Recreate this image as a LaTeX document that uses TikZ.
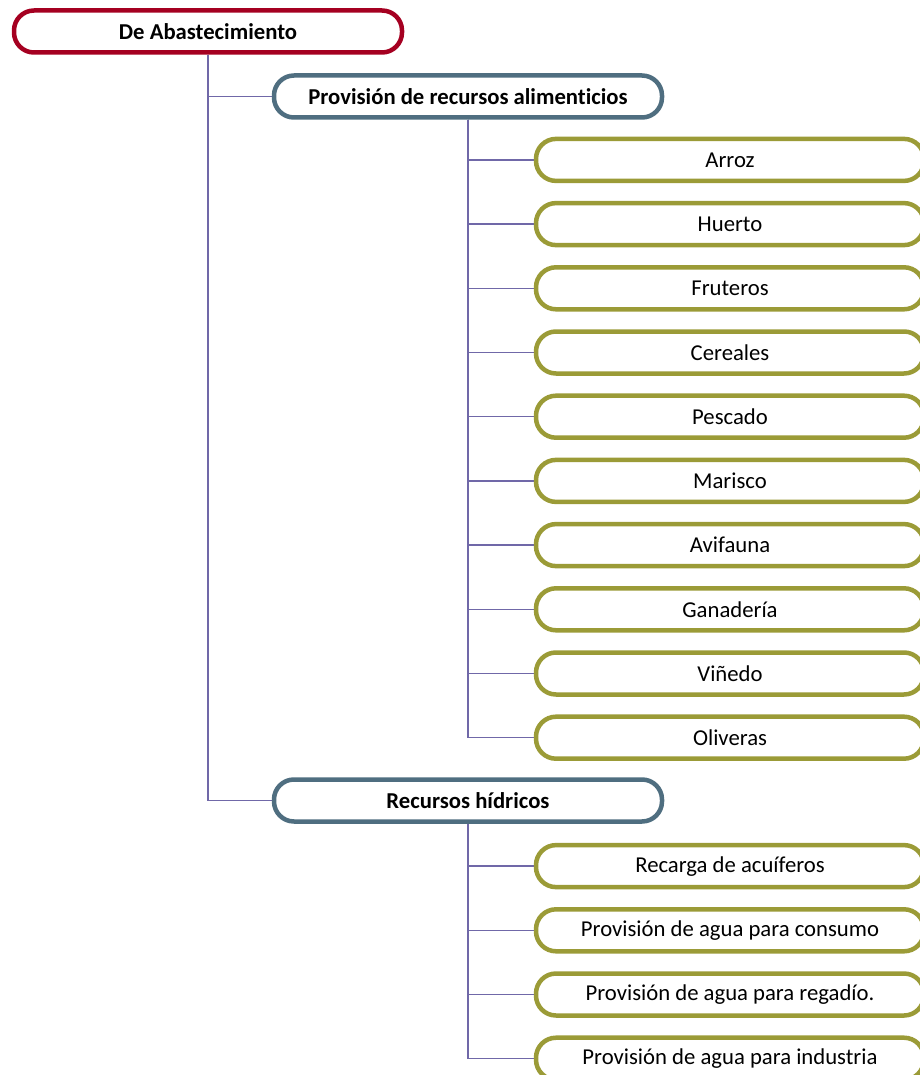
\documentclass[tikz,border=0pt]{standalone}
\usepackage{fontspec}
\setmainfont[Ligatures=NoCommon]{Carlito}
\usetikzlibrary{backgrounds}
\definecolor{rojo}{RGB}{165,0,33}
\definecolor{pizarra}{RGB}{79,110,128}
\definecolor{oliva}{RGB}{155,155,55}
\definecolor{linea}{RGB}{112,104,168}
\begin{document}
\begin{tikzpicture}[x=1pt, y=-1pt,
    caja/.style={draw, fill=white, line width=4.5pt, rounded corners=20pt,
      minimum width=388pt, minimum height=42pt, inner sep=0pt,
      font=\fontsize{22.7}{26}\selectfont},
    raiz/.style={caja, draw=rojo, font=\fontsize{22.7}{26}\selectfont\bfseries},
    grupo/.style={caja, draw=pizarra, font=\fontsize{22.7}{26}\selectfont\bfseries},
    hoja/.style={caja, draw=oliva},
    rama/.style={draw=linea, line width=1.5pt}]
        \useasboundingbox (0,0) rectangle (919,1075);

        % Servicio de abastecimiento
        \node[raiz] (abast) at (208,31.5) {De Abastecimiento};

        % Grupos de servicios
        \node[grupo] (alim) at (468,96.5) {Provisión de recursos alimenticios};
        \node[grupo] (hidr) at (468,800.5) {Recursos hídricos};

        % Recursos alimenticios
        \foreach \nom [count=\i] in {Arroz, Huerto, Fruteros, Cereales, Pescado,
            Marisco, Avifauna, Ganadería, Viñedo, Oliveras}
          \node[hoja] (alim\i) at (730,{31.5+64.2*(\i+1)}) {\nom};

        % Recursos hídricos
        \foreach \nom [count=\i] in {Recarga de acuíferos, Provisión de agua para consumo,
            Provisión de agua para regadío., Provisión de agua para industria}
          \node[hoja] (agua\i) at (730,{31.5+64.2*(\i+12)}) {\nom};

        % Ramas del árbol
        \begin{scope}[on background layer]
          \draw[rama] (abast.south) |- (alim.west);
          \draw[rama] (abast.south) |- (hidr.west);
          \foreach \i in {1,...,10}
            \draw[rama] (alim.south) |- (alim\i.west);
          \foreach \i in {1,...,4}
            \draw[rama] (hidr.south) |- (agua\i.west);
        \end{scope}
    \end{tikzpicture}
\end{document}
